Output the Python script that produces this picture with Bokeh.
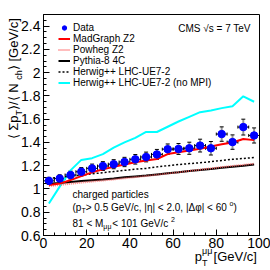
from bokeh.plotting import figure
from bokeh.models import (Range1d, FixedTicker, Label, Legend, LegendItem, Whisker, TeeHead,
                          ColumnDataSource, Title)
from bokeh.embed import file_html
from bokeh.resources import INLINE

# ---------------- data ----------------
pt_center = [2.5, 7.5, 12.5, 17.5, 22.5, 27.5, 32.5, 37.5, 42.5, 47.5,
             52.5, 57.5, 62.5, 67.5, 72.5, 77.5, 82.5, 87.5, 92.5, 97.5]
pt_halfwidth = [2.5] * 20
data_val = [1.070, 1.090, 1.120, 1.148, 1.177, 1.197, 1.213, 1.232, 1.255, 1.275,
            1.297, 1.342, 1.344, 1.350, 1.373, 1.350, 1.472, 1.403, 1.532, 1.460]
data_err = [0.030, 0.032, 0.034, 0.036, 0.037, 0.038, 0.039, 0.040, 0.041, 0.042,
            0.043, 0.045, 0.047, 0.052, 0.055, 0.058, 0.062, 0.062, 0.068, 0.065]
madgraph = [1.033, 1.047, 1.076, 1.110, 1.143, 1.169, 1.190, 1.210, 1.230, 1.245,
            1.258, 1.300, 1.316, 1.330, 1.345, 1.365, 1.385, 1.400, 1.430, 1.420]
powheg = [1.025, 1.035, 1.045, 1.055, 1.064, 1.073, 1.082, 1.092, 1.102, 1.112,
          1.122, 1.133, 1.143, 1.155, 1.166, 1.177, 1.188, 1.198, 1.207, 1.217]
pythia = [1.045, 1.052, 1.060, 1.068, 1.075, 1.082, 1.090, 1.100, 1.108, 1.115,
          1.125, 1.135, 1.143, 1.155, 1.163, 1.172, 1.182, 1.192, 1.200, 1.210]
herwig = [1.090, 1.100, 1.110, 1.120, 1.130, 1.140, 1.150, 1.160, 1.170, 1.177,
          1.190, 1.200, 1.210, 1.218, 1.225, 1.235, 1.245, 1.255, 1.262, 1.270]
herwig_nompi = [0.875, 1.020, 1.160, 1.250, 1.265, 1.300, 1.355, 1.400, 1.440, 1.490,
                1.490, 1.535, 1.580, 1.620, 1.660, 1.675, 1.695, 1.712, 1.797, 1.750]

x_ticks = [0, 20, 40, 60, 80, 100]
x_tick_labels = ["0", "20", "40", "60", "80", "100"]
y_ticks = [0.6, 0.8, 1.0, 1.2, 1.4, 1.6, 1.8, 2.0, 2.2, 2.4]
y_tick_labels = ["0.6", "0.8", "1", "1.2", "1.4", "1.6", "1.8", "2", "2.2", "2.4"]

# ---------------- figure ----------------
FONT = "Liberation Sans"
p = figure(width=270, height=270, x_range=Range1d(0, 100), y_range=Range1d(0.6, 2.5),
           output_backend="svg", toolbar_location=None,
           min_border_left=43, min_border_right=11, min_border_top=14, min_border_bottom=35)
p.grid.visible = False
p.outline_line_color = "black"
p.outline_line_width = 1
p.outline_line_alpha = 1.0
p.background_fill_color = "white"
p.border_fill_color = "white"

p.xaxis.ticker = FixedTicker(ticks=x_ticks, minor_ticks=[i * 5 for i in range(21)])
p.xaxis.major_label_overrides = {t: l for t, l in zip(x_ticks, x_tick_labels)}
p.yaxis.ticker = FixedTicker(ticks=y_ticks, minor_ticks=[round(0.6 + 0.05 * i, 2) for i in range(39)])
p.yaxis.major_label_overrides = {t: l for t, l in zip(y_ticks, y_tick_labels)}
for ax in (p.xaxis, p.yaxis):
    ax.axis_line_color = "black"
    ax.major_tick_in = 6
    ax.major_tick_out = 0
    ax.minor_tick_in = 3
    ax.minor_tick_out = 0
    ax.major_tick_line_color = "black"
    ax.minor_tick_line_color = "black"
    ax.major_label_text_font = FONT
    ax.major_label_text_font_size = "14px"
    ax.major_label_text_color = "black"
p.xaxis.major_label_standoff = 2
p.yaxis.major_label_standoff = 3

# ---------------- curves ----------------
r_nompi = p.line(pt_center, herwig_nompi, line_color="#00ffff", line_width=2)
r_pythia = p.line(pt_center, pythia, line_color="black", line_width=2)
r_herwig = p.line(pt_center, herwig, line_color="black", line_width=1.5, line_dash="2 2")
r_powheg = p.line(pt_center, powheg, line_color="#ff5a5a", line_width=2, line_dash="1 1", line_alpha=0.8)
r_mad = p.line(pt_center, madgraph, line_color="red", line_width=2)

# ---------------- data points with errors ----------------
src = ColumnDataSource(dict(
    x=pt_center, y=data_val,
    ylo=[v - e for v, e in zip(data_val, data_err)],
    yhi=[v + e for v, e in zip(data_val, data_err)],
    xlo=[c - h for c, h in zip(pt_center, pt_halfwidth)],
    xhi=[c + h for c, h in zip(pt_center, pt_halfwidth)],
))
p.add_layout(Whisker(source=src, base="x", lower="ylo", upper="yhi", dimension="height",
                     line_color="#999999", line_width=2,
                     upper_head=TeeHead(size=4, line_color="black", line_width=1),
                     lower_head=TeeHead(size=4, line_color="black", line_width=1)))
p.add_layout(Whisker(source=src, base="y", lower="xlo", upper="xhi", dimension="width",
                     line_color="black", line_width=1,
                     upper_head=TeeHead(size=3, line_color="black", line_width=1),
                     lower_head=TeeHead(size=3, line_color="black", line_width=1)))
r_data = p.scatter("x", "y", source=src, marker="circle", size=7.5,
                   fill_color="blue", line_color="blue")

# ---------------- legend ----------------
legend = Legend(items=[
    LegendItem(label="Data", renderers=[r_data]),
    LegendItem(label="MadGraph Z2", renderers=[r_mad]),
    LegendItem(label="Powheg Z2", renderers=[r_powheg]),
    LegendItem(label="Pythia-8 4C", renderers=[r_pythia]),
    LegendItem(label="Herwig++ LHC-UE7-2", renderers=[r_herwig]),
    LegendItem(label="Herwig++ LHC-UE7-2 (no MPI)", renderers=[r_nompi]),
], location=(15, 147), label_text_font=FONT, label_text_font_size="10px",
    label_text_color="black", glyph_width=12, glyph_height=11, label_height=11,
    spacing=0, padding=0, margin=0, label_standoff=3,
    border_line_color=None, background_fill_alpha=0)
p.add_layout(legend)

# ---------------- texts ----------------
W = {' ': 278, '(': 333, ')': 333, '[': 278, ']': 278, '/': 278, ',': 278, '.': 278,
     '|': 260, '<': 584, '>': 584, '=': 584, '+': 584, '-': 333,
     'a': 556, 'c': 500, 'd': 556, 'e': 556, 'g': 556, 'h': 556, 'i': 222, 'l': 222,
     'n': 556, 'o': 556, 'p': 556, 'r': 333, 's': 500, 't': 278,
     'G': 778, 'V': 667, 'M': 833, 'N': 722, 'T': 611,
     'μ': 640, 'η': 556, 'Δ': 668, 'φ': 650, 'Σ': 618, '⟨': 390, '⟩': 390, '°': 400}


def tw(s, size):
    return sum(W.get(ch, 556) for ch in s) * size / 1000.0


def lab(x, y, text, size, align="left"):
    p.add_layout(Label(x=x, y=y, x_units="screen", y_units="screen", text=text,
                       text_font=FONT, text_font_size=f"{size}px", text_color="black",
                       text_align=align, text_baseline="alphabetic"))


def chain(x, y, pieces):
    for txt, size, dy in pieces:
        lab(x, y + dy, txt, size)
        x += tw(txt, size)


# CMS label
lab(210, 207, "CMS  √s = 7 TeV", 10, align="right")

# selection text
lab(29, 41.5, "charged particles", 10)
chain(29, 28.2, [("(p", 10, 0), ("T", 7, -3), (" > 0.5 GeV/c, |η| < 2.0, |Δφ| < 60", 10, 0),
                 ("o", 7, 4), (")", 10, 0)])
chain(29, 12.2, [("81 < M", 10, 0), ("μμ", 7, -3), (" < 101 GeV/c", 10, 0), ("2", 7, 4)])


# axis titles are built from Title pieces in the side panels (zero-thickness slots,
# spacers separate the base line from sub/superscripts)
def side_title(side, text, size, offset, standoff):
    p.add_layout(Title(text=text, align="left", vertical_align="middle", offset=offset,
                       standoff=standoff, text_font=FONT, text_font_size=f"{size}px",
                       text_font_style="normal", text_color="black"), side)


# x-axis title: p_T^{μμ} [GeV/c], right-aligned to the frame
xt_main, xt_unit = "p", " [GeV/c]"
tot = tw(xt_main, 13) + tw("μμ", 9) + tw(xt_unit, 13)
x0 = 217 - tot
side_title("below", "μμ", 9, x0 + tw(xt_main, 13), -12)
side_title("below", " ", 13, 0, -11)
side_title("below", xt_main, 13, x0, -17)
side_title("below", xt_unit, 13, x0 + tw(xt_main, 13) + tw("μμ", 9), -17)
side_title("below", " ", 13, 0, -11)
side_title("below", "T", 9, x0 + tw(xt_main, 13), -12)

# y-axis title: ⟨ Σp_T ⟩/⟨ N_ch ⟩ [GeV/c], top-aligned
ypieces = [("⟨ Σp", 13, "main"), ("T", 9, "sub"), (" ⟩/⟨ N", 13, "main"), ("ch", 9, "sub"),
           (" ⟩ [GeV/c]", 13, "main")]
ytot = sum(tw(t, s) for t, s, _ in ypieces)
offs = []
acc = 221 - ytot
for t, s, kind in ypieces:
    offs.append(acc)
    acc += tw(t, s)

for (t, s, kind), o in zip(ypieces, offs):
    if kind == "sub":
        side_title("left", t, s, o, -12)
side_title("left", " ", 13, 0, -12)
for (t, s, kind), o in zip(ypieces, offs):
    if kind == "main":
        side_title("left", t, s, o, -17)

open("out.html", "w").write(file_html(p, INLINE))
